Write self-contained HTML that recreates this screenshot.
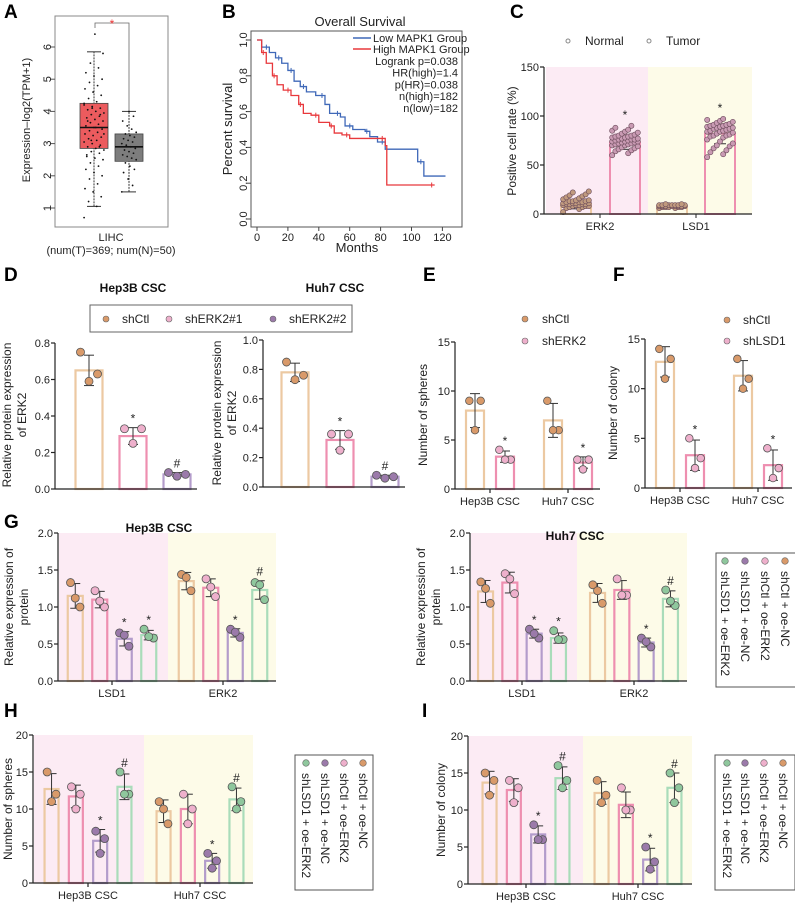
<!DOCTYPE html>
<html><head><meta charset="utf-8">
<style>
body{margin:0;background:#fff;}
svg{display:block;font-family:"Liberation Sans",Arial,sans-serif;}
.pl{font-weight:bold;font-size:19px;}
.tk{font-size:11px;fill:#222;}
.at{font-size:12px;fill:#222;}
.tt{font-size:12px;font-weight:bold;fill:#111;}
</style></head>
<body>
<svg id="fig" width="795" height="904" viewBox="0 0 795 904" xmlns="http://www.w3.org/2000/svg">
<text class="pl" x="4" y="18">A</text>
<text class="pl" x="222" y="18">B</text>
<text class="pl" x="510" y="18">C</text>
<text class="pl" x="4" y="281">D</text>
<text class="pl" x="423" y="281">E</text>
<text class="pl" x="613" y="281">F</text>
<text class="pl" x="4" y="528">G</text>
<text class="pl" x="4" y="717">H</text>
<text class="pl" x="422" y="717">I</text>
</svg>
<script>
// ---------- DATA ----------
const aTumor=[0.7,1.05,1.2,1.35,1.5,1.6,1.75,1.9,2.0,2.1,2.2,2.3,2.4,2.5,2.55,2.6,2.7,2.75,2.8,2.85,2.9,2.95,3.0,3.05,3.1,3.15,3.2,3.25,3.3,3.35,3.4,3.45,3.5,3.55,3.6,3.65,3.7,3.75,3.8,3.85,3.9,3.95,4.0,4.05,4.1,4.15,4.2,4.3,4.4,4.5,4.6,4.7,4.8,4.9,5.0,5.1,5.2,5.35,5.5,5.8,6.4,2.65,2.9,3.1,3.3,3.5,3.7,3.9,4.1,4.25];
const aNormal=[1.5,1.7,1.9,2.1,2.2,2.3,2.4,2.5,2.55,2.6,2.65,2.7,2.75,2.8,2.85,2.9,2.95,3.0,3.05,3.1,3.15,3.2,3.25,3.3,3.35,3.45,3.55,3.7,3.85,4.0];
const aBoxT=[1.05,2.85,3.5,4.25,5.85];
const aBoxN=[1.5,2.45,2.9,3.3,4.0];
const aTicks=[1,2,3,4,5,6];
const bLowT=[0,3,8,12,16,20,24,28,32,38,44,47,54,57,62,70,73,78,83,104,108,122];
const bLowS=[1,0.96,0.93,0.9,0.87,0.83,0.77,0.74,0.71,0.69,0.64,0.59,0.57,0.52,0.5,0.49,0.46,0.43,0.39,0.32,0.24,0.24];
const bHighT=[0,3,6,10,13,17,22,27,30,35,40,47,50,55,60,70,83,84,115];
const bHighS=[1,0.93,0.87,0.8,0.75,0.72,0.69,0.64,0.59,0.58,0.54,0.52,0.48,0.47,0.45,0.45,0.41,0.19,0.19];
const bXTicks=[0,20,40,60,80,100,120];
const bYTicks=[0,0.2,0.4,0.6,0.8,1.0];
const cCats=["ERK2","LSD1"];
const cNormalERK2=[2,5,6,7,8,8,9,9,10,10,10,11,11,11,12,12,13,13,14,14,15,16,17,18,19,20,22,23,9,10,12,8,7,11,13];
const cTumorERK2=[60,62,64,65,66,67,68,69,70,70,71,72,72,73,73,74,74,75,75,76,76,77,77,78,78,79,80,80,81,82,83,84,85,86,88,90,71,74,76,79];
const cNormalLSD1=[6,6,7,7,7,7,8,8,8,8,8,8,8,9,9,9,9,9,9,10,10,7,8,9];
const cTumorLSD1=[58,61,63,65,67,69,70,72,74,76,78,79,80,81,82,83,84,85,85,86,87,88,88,89,90,90,91,92,93,94,95,96,97,80,84,87,89,91];
const cMeans=[[10,73],[8,82]];
// D
const dHepMeans=[0.65,0.29,0.08];
const dHepPts=[[0.75,0.63,0.59],[0.33,0.33,0.25],[0.09,0.08,0.07]];
const dHuhMeans=[0.78,0.32,0.07];
const dHuhPts=[[0.85,0.76,0.73],[0.36,0.36,0.25],[0.08,0.07,0.06]];
const dMarks=["","*","#"];
// E
const eMeans=[[8,3.3],[7,2.7]];
const ePts=[[[9,9,6],[4,3,3]],[[9,6,6],[3,3,2]]];
// F
const fMeans=[[12.7,3.3],[11.3,2.3]];
const fPts=[[[14,13,11],[5,3,2]],[[13,11,10],[4,2,1]]];
// G
const gHepMeans=[[1.15,1.1,0.57,0.62],[1.35,1.26,0.65,1.23]];
const gHepPts=[[[1.33,1.0,1.12],[1.22,1.0,1.08],[0.65,0.47,0.62],[0.7,0.58,0.6]],[[1.44,1.22,1.4],[1.38,1.14,1.27],[0.7,0.59,0.66],[1.33,1.1,1.3]]];
const gHuhMeans=[[1.21,1.33,0.64,0.58],[1.19,1.23,0.52,1.11]];
const gHuhPts=[[[1.34,1.05,1.25],[1.45,1.18,1.38],[0.7,0.58,0.64],[0.68,0.56,0.56]],[[1.3,1.05,1.22],[1.38,1.16,1.16],[0.58,0.46,0.53],[1.23,1.02,1.08]]];
const gMarks=[["","","*","*"],["","","*","#"]];
// H
const hMeans=[[12.7,11.7,5.7,13],[9.7,10,3,11.3]];
const hPts=[[[15,12,11],[13,12,10],[7,6,4],[15,12,12]],[[11,8,10],[12,10,8],[4,3,2],[13,11,10]]];
// I
const iMeans=[[13.7,12.7,6.7,14.3],[12.3,10.7,3.3,13]];
const iPts=[[[15,14,12],[14,13,11],[8,6,6],[16,14,13]],[[14,12,11],[13,10,10],[5,3,2],[15,13,11]]];
const hiMarks=[["","","*","#"],["","","*","#"]];
const grpLabels=["Hep3B CSC","Huh7 CSC"];
const gLabels=["LSD1","ERK2"];
const legend4=["shCtl + oe-NC","shCtl + oe-ERK2","shLSD1 + oe-NC","shLSD1 + oe-ERK2"];

// ---------- HELPERS ----------
const svg=document.getElementById('fig');
const NS="http://www.w3.org/2000/svg";
function mk(tag,attrs,parent,name){const e=document.createElementNS(NS,tag);for(const k in attrs)e.setAttribute(k,attrs[k]);


(parent||svg).appendChild(e);return e;}
function txt(x,y,s,cls,anchor,name,extra){const t=mk('text',Object.assign({x:x,y:y,'class':cls,'text-anchor':anchor||'start'},extra||{}),svg,name);t.textContent=s;return t;}
const DOT=["#d99a6a","#eeb0cc","#9b7aaa","#8fc79d"];
const BAR=["#ecc9a2","#ee8fb0","#b39ccb","#a9dcba"];
const PINKBG="#fcebf4",YELBG="#fdfbe8";
function sd(a){const m=a.reduce((s,v)=>s+v,0)/a.length;return Math.sqrt(a.reduce((s,v)=>s+(v-m)*(v-m),0)/(a.length-1));}

function yAxis(ax,y0,yT,ymax,ticks,fmt,name){
  const ys=v=>y0-(v/ymax)*(y0-yT);
  mk('line',{x1:ax,x2:ax,y1:y0,y2:ys(ticks[ticks.length-1]),stroke:'#222','stroke-width':1.2},svg,name+'-y-axis');
  ticks.forEach(t=>{mk('line',{x1:ax-4,x2:ax,y1:ys(t),y2:ys(t),stroke:'#222','stroke-width':1.2},svg,name+'-y-tick');
    txt(ax-5,ys(t)+4,fmt(t),'tk','end',name+'-y-tick-label');});
  return ys;
}
function barChart(c){
  const ys=v=>c.y0-(v/c.ymax)*(c.y0-c.yT);
  (c.bg||[]).forEach(b=>mk('rect',{x:b[0],y:c.yT,width:b[1]-b[0],height:c.y0-c.yT,fill:b[2]},svg,c.name+'-background'));
  c.means.forEach((grp,gi)=>{
    const n=grp.length;
    grp.forEach((m,bi)=>{
      const cx=c.centers[gi]+(bi-(n-1)/2)*c.sp;
      const ci=c.colorIdx[bi];
      mk('rect',{x:cx-c.bw/2,y:ys(m),width:c.bw,height:c.y0-ys(m),fill:'none',stroke:BAR[ci],'stroke-width':2.2},svg,c.name+'-bar');
      const p=c.pts[gi][bi],s=sd(p);
      mk('line',{x1:cx,x2:cx,y1:ys(m-s),y2:ys(m+s),stroke:'#333','stroke-width':1},svg,c.name+'-error-bar');
      [m-s,m+s].forEach(v=>mk('line',{x1:cx-5,x2:cx+5,y1:ys(v),y2:ys(v),stroke:'#333','stroke-width':1},svg,c.name+'-error-cap'));
      const offs=[-0.35,0.35,0];
      p.forEach((v,k)=>mk('circle',{cx:cx+offs[k]*c.bw*0.9,cy:ys(v),r:c.r||4.5,fill:DOT[ci],stroke:'#555','stroke-width':0.8},svg,c.name+'-point'));
      const mkr=c.marks?c.marks[gi][bi]:"";
      if(mkr) txt(cx,ys(Math.max(m+s,Math.max(...p)))-5,mkr,'tk','middle',c.name+'-significance-mark',{style:'font-size:12px'});
    });
    if(c.labels){mk('line',{x1:c.centers[gi],x2:c.centers[gi],y1:c.y0,y2:c.y0+4,stroke:'#222','stroke-width':1.2},svg,c.name+'-x-tick');
      txt(c.centers[gi],c.y0+16,c.labels[gi],'tk','middle',c.name+'-x-tick-label');}
  });
  mk('line',{x1:c.ax,x2:c.axEnd,y1:c.y0,y2:c.y0,stroke:'#222','stroke-width':1.2},svg,c.name+'-x-axis');
  yAxis(c.ax,c.y0,c.yT,c.ymax,c.ticks,c.fmt,c.name);
}
function rotLabel(x,y,lines,name){
  lines.forEach((l,i)=>txt(x+i*15,y,l,'at','middle',name,{transform:`rotate(-90 ${x+i*15} ${y})`}));
}

// ---------- PANEL A ----------
(function(){
  const ys=v=>208-(v-1)*32.2;
  mk('rect',{x:55,y:16,width:113,height:211,fill:'none',stroke:'#888','stroke-width':1},svg,'a-plot-frame');
  aTicks.forEach(t=>{mk('line',{x1:50,x2:55,y1:ys(t),y2:ys(t),stroke:'#555'},svg,'a-y-tick');
    txt(47,ys(t),String(t),'tk','middle','a-y-tick-label',{transform:`rotate(-90 47 ${ys(t)})`,dy:'4'});});
  function box(b,cx,fill,name){
    mk('line',{x1:cx,x2:cx,y1:ys(b[0]),y2:ys(b[4]),stroke:'#333','stroke-dasharray':'2,1'},svg,name+'-whisker');
    [b[0],b[4]].forEach(v=>mk('line',{x1:cx-7,x2:cx+7,y1:ys(v),y2:ys(v),stroke:'#333'},svg,name+'-whisker-cap'));
    mk('rect',{x:cx-14,y:ys(b[3]),width:28,height:ys(b[1])-ys(b[3]),fill:fill,stroke:'#444','stroke-width':0.8},svg,name+'-box');
    mk('line',{x1:cx-14,x2:cx+14,y1:ys(b[2]),y2:ys(b[2]),stroke:'#111','stroke-width':1.6},svg,name+'-median');
  }
  box(aBoxT,94,'#ec5b5e','a-tumor');box(aBoxN,129,'#7d7d7d','a-normal');
  aTumor.forEach((v,i)=>mk('circle',{cx:94+(((i*37)%23)-11)*0.9,cy:ys(v),r:0.9,fill:'#111'},svg,'a-tumor-point'));
  aNormal.forEach((v,i)=>mk('circle',{cx:129+(((i*29)%17)-8)*0.9,cy:ys(v),r:0.9,fill:'#111'},svg,'a-normal-point'));
  mk('polyline',{points:'95,28 95,23 129,23 129,111',fill:'none',stroke:'#666','stroke-width':0.8},svg,'a-significance-bracket');
  txt(112,28,'*','tk','middle','a-significance-star',{style:'fill:#e33;font-size:12px'});
  txt(30,120,'Expression\u2013log2(TPM+1)','tk','middle','a-y-axis-title',{transform:'rotate(-90 30 120)'});
  txt(111,241,'LIHC','tk','middle','a-x-label');
  txt(111,254,'(num(T)=369; num(N)=50)','tk','middle','a-x-sublabel');
})();

// ---------- PANEL B ----------
(function(){
  const xs=t=>257+t*1.545, ys=s=>219-s*179;
  mk('rect',{x:251,y:31,width:211,height:196,fill:'none',stroke:'#555','stroke-width':1},svg,'b-plot-frame');
  bXTicks.forEach(t=>{mk('line',{x1:xs(t),x2:xs(t),y1:227,y2:231,stroke:'#444'},svg,'b-x-tick');txt(xs(t),241,String(t),'tk','middle','b-x-tick-label');});
  bYTicks.forEach(t=>{mk('line',{x1:247,x2:251,y1:ys(t),y2:ys(t),stroke:'#444'},svg,'b-y-tick');
    txt(243,ys(t),t.toFixed(1),'tk','middle','b-y-tick-label',{transform:`rotate(-90 243 ${ys(t)})`,dy:'4'});});
  function km(T,S,col,name){let d=`M${xs(T[0])},${ys(S[0])}`;for(let i=1;i<T.length;i++){d+=` H${xs(T[i])} V${ys(S[i])}`;}
    mk('path',{d:d,fill:'none',stroke:col,'stroke-width':1.3},svg,name);
    T.forEach((t,i)=>{if(i>0&&i%2==0)mk('line',{x1:xs(t)-3,x2:xs(t)-3,y1:ys(S[i-1])-2.5,y2:ys(S[i-1])+2.5,stroke:col},svg,name+'-censor');});}
  km(bLowT,bLowS,'#3f68b8','b-low-mapk1-curve');km(bHighT,bHighS,'#e8383c','b-high-mapk1-curve');
  txt(360,26,'Overall Survival','at','middle','b-title',{style:'font-size:13px'});
  mk('line',{x1:353,x2:371,y1:38,y2:38,stroke:'#3f68b8','stroke-width':1.5},svg,'b-legend-low-line');
  mk('line',{x1:353,x2:371,y1:49,y2:49,stroke:'#e8383c','stroke-width':1.5},svg,'b-legend-high-line');
  txt(373,42,'Low MAPK1 Group','tk','start','b-legend-low');txt(373,53,'High MAPK1 Group','tk','start','b-legend-high');
  ['Logrank p=0.038','HR(high)=1.4','p(HR)=0.038','n(high)=182','n(low)=182'].forEach((s,i)=>txt(458,65+i*11.7,s,'tk','end','b-stat-text'));
  txt(232,129,'Percent survival','at','middle','b-y-axis-title',{transform:'rotate(-90 232 129)',style:'font-size:13px'});
  txt(357,252,'Months','at','middle','b-x-axis-title',{style:'font-size:13px'});
})();

// ---------- PANEL C ----------
(function(){
  const ys=v=>214-v*0.98;
  mk('rect',{x:546,y:67,width:102,height:147,fill:PINKBG},svg,'c-background-erk2');
  mk('rect',{x:648,y:67,width:104,height:147,fill:YELBG},svg,'c-background-lsd1');
  const centers=[576,625,672,720];
  const sets=[cNormalERK2,cTumorERK2,cNormalLSD1,cTumorLSD1];
  const means=[cMeans[0][0],cMeans[0][1],cMeans[1][0],cMeans[1][1]];
  sets.forEach((set,k)=>{
    const cx=centers[k],m=means[k],tumor=k%2==1;
    mk('rect',{x:cx-15,y:ys(m),width:30,height:214-ys(m),fill:'none',stroke:tumor?'#ee8fb0':'#ecc9a2','stroke-width':2},svg,'c-bar');
    const s=sd(set);
    mk('line',{x1:cx-6,x2:cx+6,y1:ys(m-s),y2:ys(m-s),stroke:'#333'},svg,'c-error-cap');
    const sorted=set.slice().sort((a,b)=>a-b);
    sorted.forEach((v,i)=>mk('circle',{cx:cx+(((i*5)%9)-4)*3.2,cy:ys(v),r:2.6,fill:tumor?'#c99ab3':'#c09a7e',stroke:'#6a4a5a','stroke-width':0.6},svg,'c-point'));
    if(tumor) txt(cx,ys(Math.max(...set))-7,'*','tk','middle','c-significance-mark',{style:'font-size:12px'});
  });
  mk('line',{x1:544,x2:752,y1:214,y2:214,stroke:'#222','stroke-width':1.2},svg,'c-x-axis');
  yAxis(544,214,67,150,[0,50,100,150],String,'c');
  [600,696].forEach((x,i)=>{mk('line',{x1:x,x2:x,y1:214,y2:218,stroke:'#222'},svg,'c-x-tick');txt(x,230,cCats[i],'tk','middle','c-x-tick-label');});
  txt(516,141,'Positive cell rate (%)','at','middle','c-y-axis-title',{transform:'rotate(-90 516 141)'});
  mk('circle',{cx:568,cy:41,r:2,fill:'#fff',stroke:'#888'},svg,'c-legend-normal-marker');
  txt(585,45,'Normal','at','start','c-legend-normal');
  mk('circle',{cx:649,cy:41,r:2,fill:'#fff',stroke:'#888'},svg,'c-legend-tumor-marker');
  txt(666,45,'Tumor','at','start','c-legend-tumor');
})();

// ---------- PANEL D ----------
txt(133,292,'Hep3B CSC','tt','middle','d-hep3b-title');
txt(335,292,'Huh7 CSC','tt','middle','d-huh7-title');
mk('rect',{x:90,y:305,width:262,height:27,fill:'#fff',stroke:'#666','stroke-width':1},svg,'d-legend-box');
[[106,'shCtl',0],[169,'shERK2#1',1],[273,'shERK2#2',2]].forEach(l=>{mk('circle',{cx:l[0],cy:319,r:3,fill:DOT[l[2]],stroke:'#666','stroke-width':0.6},svg,'d-legend-marker');txt(l[0]+16,323,l[1],'at','start','d-legend-label');});
barChart({name:'d-hep3b',ax:55,axEnd:197,y0:489,yT:343,ymax:0.8,ticks:[0,0.2,0.4,0.6,0.8],fmt:v=>v.toFixed(1),centers:[133],sp:44,bw:27,means:[dHepMeans],pts:[dHepPts],marks:[dMarks],colorIdx:[0,1,2],r:4});
barChart({name:'d-huh7',ax:263,axEnd:405,y0:487,yT:340,ymax:1.0,ticks:[0,0.2,0.4,0.6,0.8,1.0],fmt:v=>v.toFixed(1),centers:[340],sp:45,bw:27,means:[dHuhMeans],pts:[dHuhPts],marks:[dMarks],colorIdx:[0,1,2],r:4});
rotLabel(11,415,['Relative protein expression','of ERK2'],'d-hep3b-y-axis-title');
rotLabel(221,413,['Relative protein expression','of ERK2'],'d-huh7-y-axis-title');

// ---------- PANEL E / F ----------
barChart({name:'e',ax:455,axEnd:600,y0:489,yT:342,ymax:15,ticks:[0,5,10,15],fmt:String,centers:[490,568],sp:30,bw:18,means:eMeans,pts:ePts,marks:[["","*"],["","*"]],colorIdx:[0,1],labels:grpLabels,r:3.8});
[[319,'shCtl',0],[341,'shERK2',1]].forEach(l=>{mk('circle',{cx:525,cy:l[0],r:3,fill:DOT[l[2]],stroke:'#666','stroke-width':0.6},svg,'e-legend-marker');txt(542,l[0]+4,l[1],'at','start','e-legend-label');});
txt(427,415,'Number of spheres','at','middle','e-y-axis-title',{transform:'rotate(-90 427 415)'});
barChart({name:'f',ax:645,axEnd:792,y0:488,yT:339,ymax:15,ticks:[0,5,10,15],fmt:String,centers:[680,758],sp:30,bw:18,means:fMeans,pts:fPts,marks:[["","*"],["","*"]],colorIdx:[0,1],labels:grpLabels,r:3.8});
[[320,'shCtl',0],[341,'shLSD1',1]].forEach(l=>{mk('circle',{cx:727,cy:l[0],r:3,fill:DOT[l[2]],stroke:'#666','stroke-width':0.6},svg,'f-legend-marker');txt(743,l[0]+4,l[1],'at','start','f-legend-label');});
txt(617,413,'Number of colony','at','middle','f-y-axis-title',{transform:'rotate(-90 617 413)'});

// ---------- PANEL G ----------
barChart({name:'g-hep3b',ax:58,axEnd:276,y0:681,yT:533,ymax:2.0,ticks:[0,0.5,1.0,1.5,2.0],fmt:v=>v.toFixed(1),centers:[112,223],sp:24.5,bw:15,means:gHepMeans,pts:gHepPts,marks:gMarks,colorIdx:[0,1,2,3],labels:gLabels,bg:[[59,168,PINKBG],[168,276,YELBG]],r:4});
txt(159,532,'Hep3B CSC','tt','middle','g-hep3b-title');
rotLabel(13,607,['Relative expression of','protein'],'g-hep3b-y-axis-title');
barChart({name:'g-huh7',ax:470,axEnd:687,y0:681,yT:533,ymax:2.0,ticks:[0,0.5,1.0,1.5,2.0],fmt:v=>v.toFixed(1),centers:[522,634],sp:24.3,bw:15,means:gHuhMeans,pts:gHuhPts,marks:gMarks,colorIdx:[0,1,2,3],labels:gLabels,bg:[[471,577,PINKBG],[577,687,YELBG]],r:4});
txt(575,540,'Huh7 CSC','tt','middle','g-huh7-title');
rotLabel(425,607,['Relative expression of','protein'],'g-huh7-y-axis-title');

function legend4box(x,y,w,h,cxs,name){
  mk('rect',{x:x,y:y,width:w,height:h,fill:'#fff',stroke:'#555','stroke-width':1},svg,name+'-box');
  const order=[3,2,1,0];
  cxs.forEach((cx,i)=>{const idx=order[i];
    mk('circle',{cx:cx,cy:y+8,r:3.3,fill:DOT[idx],stroke:'#666','stroke-width':0.6},svg,name+'-marker');
    txt(cx,y+18,legend4[idx],'at','start',name+'-label',{transform:`rotate(90 ${cx} ${y+18})`,dy:'4'});});
}
legend4box(716,553,82,134,[725,745,765,785],'g-legend');

// ---------- PANEL H / I ----------
barChart({name:'h',ax:33,axEnd:253,y0:883,yT:735,ymax:20,ticks:[0,5,10,15,20],fmt:String,centers:[88,200],sp:24.3,bw:14,means:hMeans,pts:hPts,marks:hiMarks,colorIdx:[0,1,2,3],labels:grpLabels,bg:[[34,144,PINKBG],[144,253,YELBG]],r:4});
txt(12,809,'Number of spheres','at','middle','h-y-axis-title',{transform:'rotate(-90 12 809)'});
legend4box(295,755,78,135,[306,325,344,363],'h-legend');
barChart({name:'i',ax:468,axEnd:692,y0:884,yT:736,ymax:20,ticks:[0,5,10,15,20],fmt:String,centers:[526,638],sp:24.3,bw:14,means:iMeans,pts:iPts,marks:hiMarks,colorIdx:[0,1,2,3],labels:grpLabels,bg:[[469,583,PINKBG],[583,692,YELBG]],r:4});
txt(445,810,'Number of colony','at','middle','i-y-axis-title',{transform:'rotate(-90 445 810)'});
legend4box(715,755,80,135,[727,745,764,783],'i-legend');
</script>
</body></html>
